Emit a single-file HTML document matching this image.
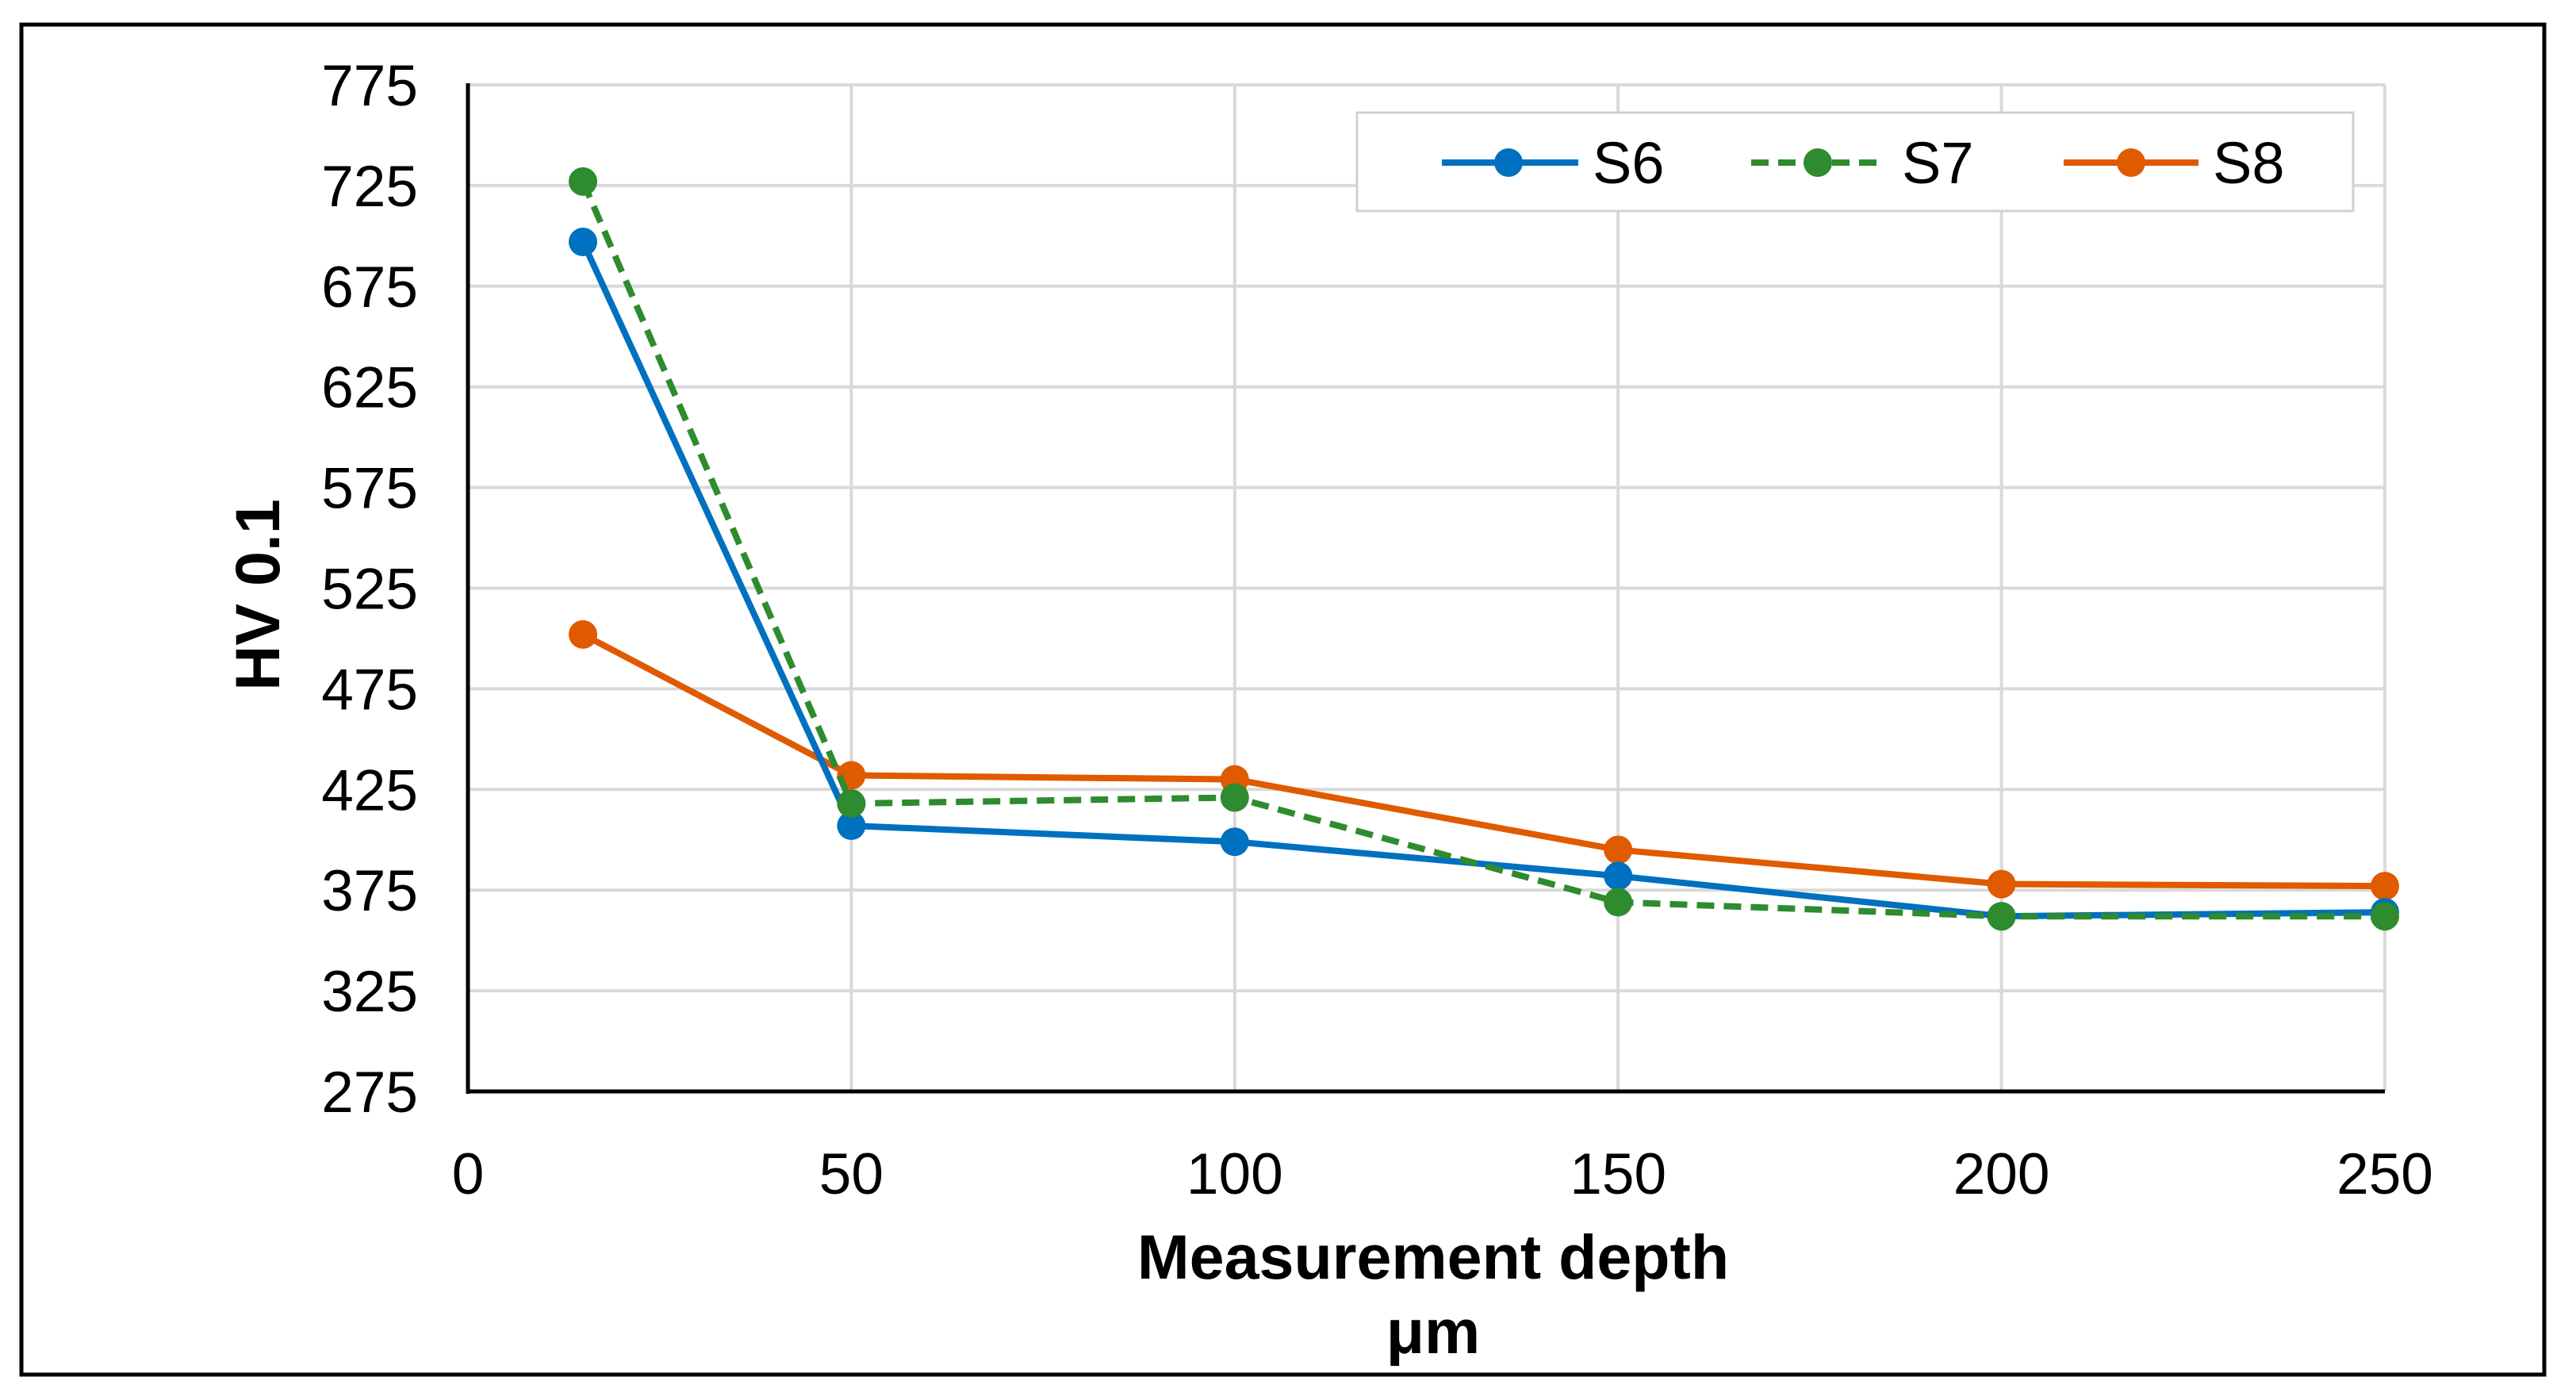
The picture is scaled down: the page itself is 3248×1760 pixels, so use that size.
<!DOCTYPE html>
<html><head><meta charset="utf-8"><style>
html,body{margin:0;padding:0;background:#fff;}
svg{display:block;font-family:"Liberation Sans",Arial,sans-serif;}
</style></head><body>
<svg id="chart" width="3248" height="1760" viewBox="0 0 3248 1760">
<rect x="27" y="31" width="3181" height="1702" fill="#fff" stroke="#000" stroke-width="5"/>
<g id="grid"></g><g id="axes"></g><g id="series"></g>
<text x="1807" y="1612" font-size="79" font-weight="bold" text-anchor="middle">Measurement depth</text>
<text x="1807" y="1706" font-size="79" font-weight="bold" text-anchor="middle">μm</text>
<text transform="translate(352,750) rotate(-90)" font-size="79" font-weight="bold" text-anchor="middle">HV 0.1</text>
<g>
<rect x="1711" y="142" width="1256" height="124" fill="#fff" stroke="#d0d0d0" stroke-width="3"/>
<g><line x1="1818" y1="205" x2="1990" y2="205" stroke="#0070C0" stroke-width="8"/><circle cx="1902" cy="205" r="18" fill="#0070C0"/><text x="2008" y="231" font-size="74">S6</text></g>
<g><line x1="2208" y1="205" x2="2376" y2="205" stroke="#2E8B2E" stroke-width="8" stroke-dasharray="22,12"/><circle cx="2292" cy="205" r="18" fill="#2E8B2E"/><text x="2398" y="231" font-size="74">S7</text></g>
<g><line x1="2602" y1="205" x2="2772" y2="205" stroke="#E05A00" stroke-width="8"/><circle cx="2687" cy="205" r="18" fill="#E05A00"/><text x="2790" y="231" font-size="74">S8</text></g>
</g>
</svg>
<script>
const depths=[15,50,100,150,200,250];
const s6=[697,407,399,382,362,364];
const s7=[727,418,421,369,362,362];
const s8=[502,432,430,395,378,377];
const yTicks=[275,325,375,425,475,525,575,625,675,725,775];
const xTicks=[0,50,100,150,200,250];
const NS='http://www.w3.org/2000/svg';
const L=590,R=3007,T=107,B=1376;
const xS=v=>L+(v-0)/(250-0)*(R-L);
const yS=v=>B-(v-275)/(775-275)*(B-T);
function mk(tag,attrs,parent,txt){const e=document.createElementNS(NS,tag);for(const k in attrs)e.setAttribute(k,attrs[k]);if(txt!==undefined)e.textContent=txt;parent.appendChild(e);return e;}
const grid=document.getElementById('grid'),axes=document.getElementById('axes'),ser=document.getElementById('series');
yTicks.forEach(v=>{
  const g=mk('line',{x1:L,x2:R,y1:yS(v),y2:yS(v),stroke:'#d9d9d9','stroke-width':4},grid);
  
  
  const t=mk('text',{x:527,y:yS(v)+26,'font-size':73,'text-anchor':'end'},axes,String(v));
  
  
});
xTicks.forEach(v=>{
  if(v>0){const g=mk('line',{x1:xS(v),x2:xS(v),y1:T,y2:B,stroke:'#d9d9d9','stroke-width':4},grid);
  
  }
  const t=mk('text',{x:xS(v),y:1505,'font-size':73,'text-anchor':'middle'},axes,String(v));
  
  
});
const ya=mk('line',{x1:L,x2:L,y1:T-2,y2:B+3,stroke:'#000','stroke-width':5},axes);


const xa=mk('line',{x1:L-2,x2:R,y1:B,y2:B,stroke:'#000','stroke-width':5},axes);


function draw(vals,color,dash,name){
  const g=mk('g',{},ser);
  
  
  const p=mk('polyline',{points:vals.map((v,i)=>xS(depths[i])+','+yS(v)).join(' '),fill:'none',stroke:color,'stroke-width':8,'stroke-linejoin':'round'},g);
  if(dash)p.setAttribute('stroke-dasharray',dash);
  
  
  vals.forEach((v,i)=>{
    const c=mk('circle',{cx:xS(depths[i]),cy:yS(v),r:18,fill:color},g);
    
    
  });
}
draw(s8,'#E05A00',null,'series-s8');
draw(s6,'#0070C0',null,'series-s6');
draw(s7,'#2E8B2E','22,12','series-s7');
</script>
</body></html>
